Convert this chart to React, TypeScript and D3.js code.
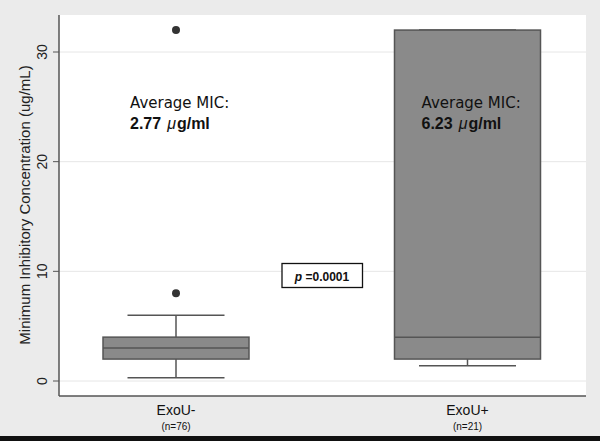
import React from "react";
import * as d3 from "d3";

const categories = ["ExoU-", "ExoU+"];
const counts = ["(n=76)", "(n=21)"];
const q1 = [2, 2];
const medians = [3, 4];
const q3 = [4, 32];
const whiskerLow = [0.3, 1.4];
const whiskerHigh = [6, 32];
const outliers = [[8, 32], []];
const averages = ["2.77", "6.23"];
const yTicks = [0, 10, 20, 30];
const pText = "=0.0001";

export default function App() {
  const W = 600, H = 441;
  const left = 59, right = 586, top = 15, bottom = 396;
  const y = d3.scaleLinear().domain([0, 30]).range([381, 52]);
  const x = d3.scaleOrdinal<string, number>().domain(categories).range([176, 467.5]);
  const boxHalf = 73;
  const capHalf = 48.5;
  const sans = "'Liberation Sans', Arial, sans-serif";
  const gothic = "'URW Gothic', 'Century Gothic', 'DejaVu Sans', sans-serif";
  return (
    <svg width={W} height={H} style={{ position: "absolute", left: 0, top: 0 }}>
      <rect x={0} y={0} width={W} height={H} fill="#ebebeb" />
      <rect x={left} y={top} width={right - left} height={bottom - top} fill="#ffffff" />
      {yTicks.map((t) => (
        <g key={t}>
          <line x1={left} x2={right} y1={y(t)} y2={y(t)} stroke="#e6e6e6" strokeWidth={1} />
          <line x1={left - 6} x2={left} y1={y(t)} y2={y(t)} stroke="#555" strokeWidth={1} />
          <text
            transform={`translate(${left - 12},${y(t)}) rotate(-90)`}
            textAnchor="middle"
            fontFamily={sans}
            fontSize={14}
            fill="#222"
          >
            {t}
          </text>
        </g>
      ))}
      <line x1={left} x2={left} y1={top} y2={bottom} stroke="#555" strokeWidth={1.5} />
      <line x1={left} x2={right} y1={bottom} y2={bottom} stroke="#555" strokeWidth={1.5} />
      <text
        transform={`translate(30,205) rotate(-90)`}
        textAnchor="middle"
        fontFamily={sans}
        fontSize={15}
        fill="#222"
      >
        Minimum Inhibitory Concentration (ug/mL)
      </text>
      {categories.map((c, i) => {
        const cx = x(c);
        return (
          <g key={c}>
            <line x1={cx} x2={cx} y1={y(whiskerHigh[i])} y2={y(q3[i])} stroke="#555" strokeWidth={1.5} />
            <line x1={cx} x2={cx} y1={y(q1[i])} y2={y(whiskerLow[i])} stroke="#555" strokeWidth={1.5} />
            <line x1={cx - capHalf} x2={cx + capHalf} y1={y(whiskerHigh[i])} y2={y(whiskerHigh[i])} stroke="#555" strokeWidth={1.5} />
            <line x1={cx - capHalf} x2={cx + capHalf} y1={y(whiskerLow[i])} y2={y(whiskerLow[i])} stroke="#555" strokeWidth={1.5} />
            <rect
              x={cx - boxHalf}
              y={y(q3[i])}
              width={boxHalf * 2}
              height={y(q1[i]) - y(q3[i])}
              fill="#8a8a8a"
              stroke="#555"
              strokeWidth={1.5}
            />
            <line x1={cx - boxHalf} x2={cx + boxHalf} y1={y(medians[i])} y2={y(medians[i])} stroke="#555" strokeWidth={1.5} />
            {outliers[i].map((o, k) => (
              <circle key={k} cx={cx} cy={y(o)} r={4} fill="#333" />
            ))}
            <text x={cx} y={415} textAnchor="middle" fontFamily={sans} fontSize={14} fill="#111">
              {c}
            </text>
            <text x={cx} y={430} textAnchor="middle" fontFamily={sans} fontSize={10} fill="#111">
              {counts[i]}
            </text>
            <text x={cx - 46} y={108} fontFamily={gothic} fontSize={15} fill="#111">
              Average MIC:
            </text>
            <text x={cx - 46} y={129} fontFamily={sans} fontWeight="bold" fontSize={16} fill="#111">
              {averages[i]}
              <tspan dx={6} fontStyle="italic" fontWeight="normal">μ</tspan>
              <tspan dx={1}>g/ml</tspan>
            </text>
          </g>
        );
      })}
      <rect x={282} y={263.5} width={80.5} height={24} fill="#fff" stroke="#111" strokeWidth={1.3} />
      <text x={322} y={281} textAnchor="middle" fontFamily={sans} fontWeight="bold" fontSize={12} fill="#111">
        <tspan fontStyle="italic">p</tspan> {pText}
      </text>
      <rect x={0} y={436} width={W} height={5} fill="#111" />
    </svg>
  );
}
